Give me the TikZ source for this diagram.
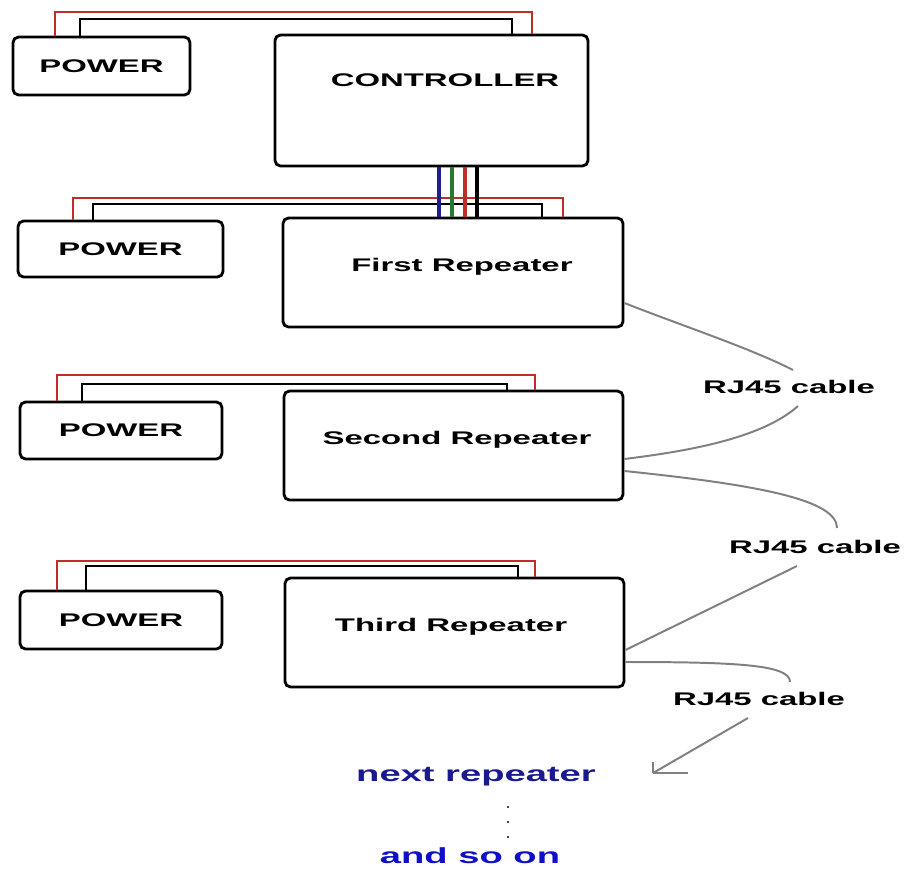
\documentclass[tikz,border=0pt]{standalone}
\usepackage{fontspec}
\setmainfont{Liberation Sans}
\newfontfamily\widefont[FakeStretch=1.8]{Liberation Sans}
\newfontfamily\bluefont[FakeStretch=1.75]{Liberation Sans}
\definecolor{wirered}{RGB}{190,45,40}
\definecolor{wireblue}{RGB}{30,30,140}
\definecolor{wiregreen}{RGB}{40,120,50}
\definecolor{cablegray}{RGB}{128,128,128}
\definecolor{textnavy}{RGB}{25,25,145}
\definecolor{textblue}{RGB}{15,15,200}
\tikzset{
  box/.style={draw, line width=2pt, rounded corners=4pt, inner sep=0pt},
  lbl/.style={font={\widefont\bfseries\fontsize{13}{15}\selectfont}, inner sep=0pt},
  bluelbl/.style={font={\bluefont\bfseries\fontsize{15.5}{18}\selectfont}, inner sep=0pt},
  redw/.style={draw=wirered, line width=2pt},
  blkw/.style={draw=black, line width=2pt},
  cable/.style={draw=cablegray, line width=1.4pt},
}
\begin{document}
\begin{tikzpicture}[x=0.025cm,y=-0.025cm]
\useasboundingbox (0,0) rectangle (906,869);
\node[box, minimum width=4.425cm, minimum height=1.45cm, lbl] (pw1) at (101.5,66) {POWER};
\node[box, minimum width=7.825cm, minimum height=3.275cm] (ctrl) at (431.5,100.5) {};
\node[lbl] (ctrltxt) at (445,80) {CONTROLLER};
\node[box, minimum width=5.125cm, minimum height=1.4cm, lbl] (pw2) at (120.5,249) {POWER};
\node[box, minimum width=8.5cm, minimum height=2.725cm] (rep1) at (453,272.5) {};
\node[lbl] (rep1txt) at (462,267) {First Repeater};
\node[box, minimum width=5.05cm, minimum height=1.425cm, lbl] (pw3) at (121,430.5) {POWER};
\node[box, minimum width=8.475cm, minimum height=2.725cm] (rep2) at (453.5,445.5) {};
\node[lbl] (rep2txt) at (457,440) {Second Repeater};
\node[box, minimum width=5.05cm, minimum height=1.45cm, lbl] (pw4) at (121,620) {POWER};
\node[box, minimum width=8.475cm, minimum height=2.725cm] (rep3) at (454.5,632.5) {};
\node[lbl] (rep3txt) at (451,627) {Third Repeater};
\node[lbl] (cab1) at (789,387) {RJ45 cable};
\node[lbl] (cab2) at (815,547) {RJ45 cable};
\node[lbl] (cab3) at (759,699) {RJ45 cable};
\node[bluelbl, text=textnavy] (nextrep) at (476,777) {next repeater};
\node[bluelbl, text=textblue] (andso) at (470,856) {and so on};
% power feeds
\draw[redw] (55,0 |- pw1.north) -- (55,12) -| (532,0 |- ctrl.north);
\draw[blkw] (80,0 |- pw1.north) -- (80,19) -| (512,0 |- ctrl.north);
\draw[redw] (73,0 |- pw2.north) -- (73,198) -| (563,0 |- rep1.north);
\draw[blkw] (93,0 |- pw2.north) -- (93,204) -| (542,0 |- rep1.north);
\draw[redw] (57,0 |- pw3.north) -- (57,375) -| (535,0 |- rep2.north);
\draw[blkw] (82,0 |- pw3.north) -- (82,384) -| (507,0 |- rep2.north);
\draw[redw] (57,0 |- pw4.north) -- (57,561) -| (535,0 |- rep3.north);
\draw[blkw] (86,0 |- pw4.north) -- (86,566) -| (518,0 |- rep3.north);
% controller to first repeater
\draw[draw=wireblue, line width=2.2pt] (439,0 |- ctrl.south) -- (439,0 |- rep1.north);
\draw[draw=wiregreen, line width=2.2pt] (452,0 |- ctrl.south) -- (452,0 |- rep1.north);
\draw[draw=wirered, line width=2.2pt] (465,0 |- ctrl.south) -- (465,0 |- rep1.north);
\draw[draw=black, line width=2.2pt] (477,0 |- ctrl.south) -- (477,0 |- rep1.north);
% RJ45 cables
\coordinate (c1) at (793,370);
\coordinate (c2) at (798,406);
\coordinate (c3) at (837,528);
\coordinate (c4) at (797,566);
\coordinate (c5) at (790,682);
\coordinate (c6) at (748,718);
\coordinate (tip) at (653,773);
\draw[cable] (rep1.east |- 0,303) .. controls (680,325) and (750,348) .. (c1);
\draw[cable] (c2) .. controls (760,440) and (680,452) .. (rep2.east |- 0,459);
\draw[cable] (rep2.east |- 0,471) .. controls (760,485) and (837,500) .. (c3);
\draw[cable] (c4) -- (rep3.east |- 0,650);
\draw[cable] (rep3.east |- 0,662) .. controls (740,662) and (790,665) .. (c5);
\draw[cable] (c6) -- (tip);
\draw[cable] (tip) -- ++(35,0);
\draw[cable] (tip) -- ++(0,-11);
\foreach \y in {807,822,837}
  \fill (508,\y) circle (0.8pt);
\end{tikzpicture}
\end{document}
